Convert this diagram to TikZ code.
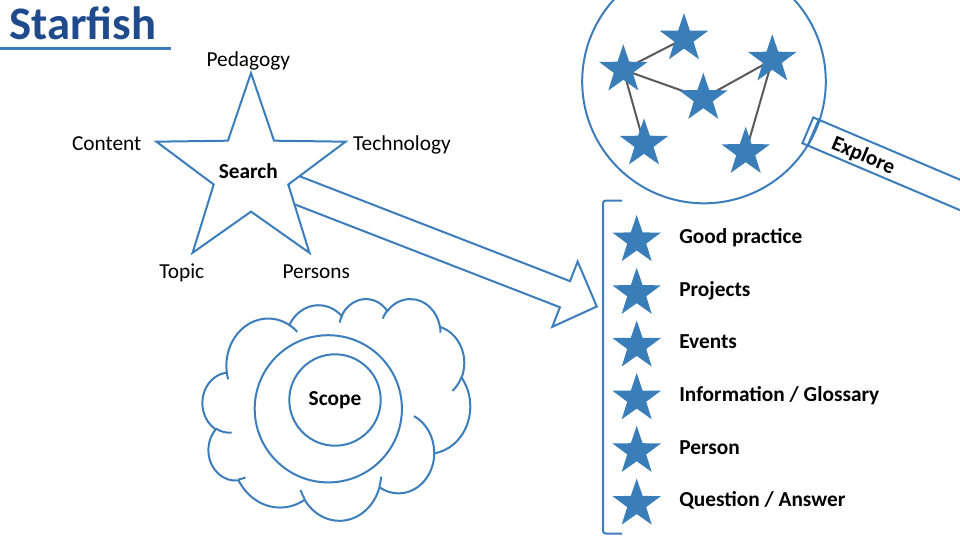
\documentclass[tikz,border=0pt]{standalone}
\usepackage{fontspec}
\setmainfont{Carlito}
\usetikzlibrary{shapes.geometric}
\definecolor{lineblue}{RGB}{60,125,187}
\definecolor{starblue}{RGB}{58,126,185}
\definecolor{titleblue}{RGB}{31,75,140}
\definecolor{linkgray}{RGB}{90,90,90}
% elliptical arc from radii and visual start/sweep angles (cloud outline)
\newcommand\cloudarc[4]{arc[start angle={vis(#3,#1/#2)}, end angle={vis(#3+#4,#1/#2)}, x radius=#1, y radius=#2]}
\begin{document}
\begin{tikzpicture}[x=0.75pt, y=-0.75pt,
  declare function={vis(\a,\k)=\a+atan((\k-1)*sin(\a)*cos(\a)/(cos(\a)^2+\k*sin(\a)^2));},
  blueline/.style={draw=lineblue, line width=1.5pt},
  tag/.style={font=\fontsize{16pt}{19pt}\selectfont, inner sep=0pt, anchor=base},
  boldtag/.style={tag, font=\fontsize{16pt}{19pt}\selectfont\bfseries},
  bluestar/.style={star, star points=5, star point ratio=2.55, fill=starblue, inner sep=0pt, minimum size=38.25pt},
  linkline/.style={draw=linkgray, line width=1.5pt},
]
\useasboundingbox (0,0) rectangle (960,540);
\fill[white] (0,0) rectangle (960,540);
\clip (0,0) rectangle (960,540);

% title
\node[font=\fontsize{35pt}{40pt}\selectfont\bfseries, text=titleblue, anchor=base west, inner sep=0pt] (title) at (9,39.5) {Starfish};
\draw[draw=lineblue, line width=2.25pt] (0,48.3) -- (171,48.3);

% search star with its block arrow
\coordinate (sc) at (251,172.4);
\begin{scope}[shift={(sc)}, rotate=-21.2]
  \draw[blueline, fill=white] (40,14) -- (336.8,14) -- (336.8,35) -- (370.9,0)
    -- (336.8,-35) -- (336.8,-14) -- (40,-14) -- cycle;
\end{scope}
\node[star, star points=5, star point ratio=2.536, minimum size=149.1pt, inner sep=0pt,
      blueline, fill=white] (search) at (sc) {};
\node[boldtag] (searchtxt) at (248.3,178.3) {Search};
\node[tag] (pedagogy) at (248.3,66.5) {Pedagogy};
\node[tag] (content) at (106.7,150) {Content};
\node[tag] (technology) at (402,150) {Technology};
\node[tag] (topic) at (181.8,278.3) {Topic};
\node[tag] (persons) at (316.3,278.3) {Persons};

% cloud with the scope rings
\begin{scope}[shift={(202.6,298.3)}, x=0.46455pt, y=-0.3849pt]
  \draw[blueline, fill=white] (39.00,143.70)
    \cloudarc{67.53}{91.90}{-190.4875}{123.7805}
    \cloudarc{53.33}{72.67}{-144.1024}{89.9452}
    \cloudarc{43.65}{59.45}{-145.8079}{99.7230}
    \cloudarc{48.57}{65.95}{-130.9861}{117.2417}
    \cloudarc{53.33}{72.73}{-78.7089}{109.0269}
    \cloudarc{67.75}{92.20}{-46.2673}{130.2690}
    \cloudarc{57.85}{78.67}{0.6250}{114.0333}
    \cloudarc{67.52}{92.15}{22.4516}{115.1726}
    \cloudarc{77.20}{105.43}{66.2426}{75.7110}
    \cloudarc{43.60}{59.18}{-274.9421}{146.7356}
    \cloudarc{43.45}{59.45}{-246.8285}{152.5189}
    -- cycle;
  \draw[blueline]
    (46.93,261.77) \cloudarc{43.45}{59.45}{86.742}{26.4295}
    (69.28,348.99) \cloudarc{43.60}{59.18}{73.6105}{11.4475}
    (164.78,390.90) \cloudarc{67.52}{92.15}{137.6242}{14.0811}
    (288.27,347.51) \cloudarc{67.52}{92.15}{6.4533}{15.9984}
    (341.29,229.54) \cloudarc{57.85}{78.67}{-70.2924}{70.9174}
    (417.98,153.54) \cloudarc{53.33}{72.73}{30.3180}{27.7515}
    (383.24,54.26) \cloudarc{48.57}{65.95}{-13.7443}{14.8589}
    (290.78,39.52) \cloudarc{48.57}{65.95}{-149.1815}{18.1954}
    (221.41,47.20) \cloudarc{43.65}{59.45}{-163.4943}{17.6864}
    (140.00,51.92) \cloudarc{67.53}{91.90}{-66.7070}{12.3194}
    (41.27,157.89) \cloudarc{67.53}{91.90}{157.6544}{11.8582};
\end{scope}
\node[circle, blueline, minimum size=110.4pt, inner sep=0pt] (ring) at (328.3,408.8) {};
\node[circle, blueline, minimum size=68.55pt, inner sep=0pt,
      font=\fontsize{16pt}{19pt}\selectfont\bfseries] (scope) at (335,400) {Scope};

% magnifying glass over the linked stars
\coordinate (mA) at (684,38.6);
\coordinate (mB) at (623.3,69.8);
\coordinate (mC) at (703.3,98.2);
\coordinate (mD) at (772.3,59.8);
\coordinate (mE) at (644,143.8);
\coordinate (mF) at (745.7,152.2);
\draw[linkline] (mB) -- (mA);
\draw[linkline] (mB) -- (mC);
\draw[linkline] (mC) -- (mD);
\draw[linkline] (mB) -- (mE);
\draw[linkline] (mD) -- (mF);
\node[bluestar] (starA) at (mA) {};
\node[bluestar] (starB) at (mB) {};
\node[bluestar] (starC) at (mC) {};
\node[bluestar] (starD) at (mD) {};
\node[bluestar] (starE) at (mE) {};
\node[bluestar] (starF) at (mF) {};
\node[circle, blueline, minimum size=182.7pt, inner sep=0pt] (lens) at (704,81.5) {};
\begin{scope}[shift={(810.6,131.5)}, rotate=-23]
  \draw[blueline] (-3,-14) rectangle (3,14);
  \draw[blueline] (3,-14) rectangle (330,14);
  \node[font=\fontsize{16pt}{19pt}\selectfont\bfseries, inner sep=0pt, rotate=-23] (explore) at (58,2) {Explore};
\end{scope}

% list of result types
\draw[blueline, rounded corners=2pt] (622,200.5) -- (603,200.5) -- (603,533.5) -- (622,533.5);
\node[bluestar] (s1) at (636.7,240.5) {};
\node[bluestar] (s2) at (636.7,293.2) {};
\node[bluestar] (s3) at (636.7,345.9) {};
\node[bluestar] (s4) at (636.7,398.6) {};
\node[bluestar] (s5) at (636.7,451.3) {};
\node[bluestar] (s6) at (636.7,504.0) {};
\node[boldtag, anchor=base west] (t1) at (679,243.3) {Good practice};
\node[boldtag, anchor=base west] (t2) at (679,296.0) {Projects};
\node[boldtag, anchor=base west] (t3) at (679,348.7) {Events};
\node[boldtag, anchor=base west] (t4) at (679,401.4) {Information / Glossary};
\node[boldtag, anchor=base west] (t5) at (679,454.1) {Person};
\node[boldtag, anchor=base west] (t6) at (679,506.8) {Question / Answer};
\end{tikzpicture}
\end{document}
